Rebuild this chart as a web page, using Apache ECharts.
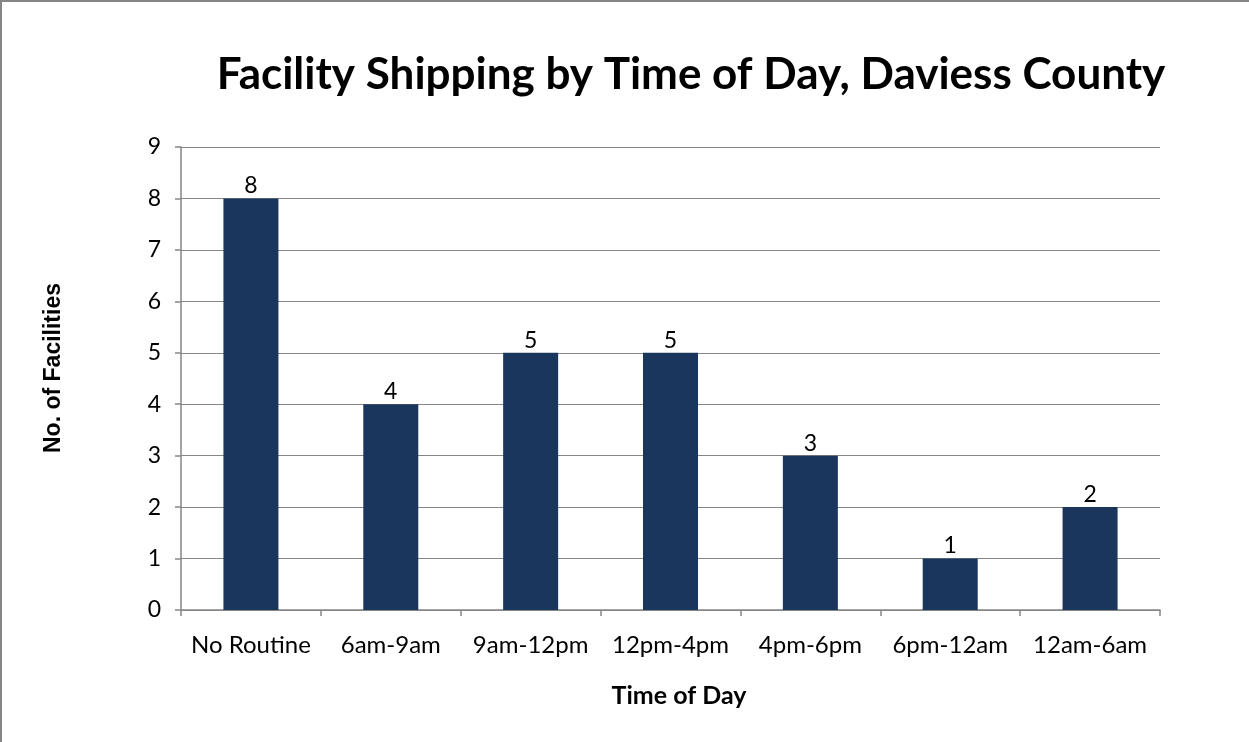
<!DOCTYPE html>
<html>
<head>
<meta charset="utf-8">
<script src="https://cdn.jsdelivr.net/npm/echarts@6/dist/echarts.min.js"></script>
<style>
  html, body { margin: 0; padding: 0; background: #fff; }
  #chart {
    width: 1249px; height: 742px; box-sizing: border-box;
    border-top: 2px solid #868686; border-left: 2px solid #868686;
  }
</style>
</head>
<body>
<div id="chart"></div>
<script>
// Shipping time windows and number of facilities in each
const categories = ['No Routine', '6am-9am', '9am-12pm', '12pm-4pm', '4pm-6pm', '6pm-12am', '12am-6am'];
const facilities = [8, 4, 5, 5, 3, 1, 2];
const yTicks = { min: 0, max: 9, interval: 1 };
const xTitle = 'Time of Day';
const yTitle = 'No. of Facilities';

const labelFont = 'Lato, "Open Sans", sans-serif';
const gray = '#868686';

const chart = echarts.init(document.getElementById('chart'), null, { renderer: 'canvas' });
chart.setOption({
  animation: false,
  backgroundColor: '#fff',
  title: {
    text: 'Facility Shipping by Time of Day, Daviess County',
    left: 684, top: 46, textAlign: 'center',
    textStyle: { fontFamily: labelFont, fontWeight: 'bold', fontSize: 44, color: '#000' }
  },
  grid: { left: 179, right: 89, top: 145, bottom: 132, containLabel: false },
  graphic: [
    {
      type: 'text', x: 677, y: 694,
      style: {
        text: xTitle, x: 0, y: 0, align: 'center', verticalAlign: 'middle',
        font: 'bold 25px Lato, "Open Sans", sans-serif', fill: '#000'
      }
    },
    {
      type: 'text', x: 52, y: 366, rotation: Math.PI / 2,
      style: {
        text: yTitle, x: 0, y: 0, align: 'center', verticalAlign: 'middle',
        font: 'bold 23px "Liberation Sans", Arial, sans-serif', fill: '#000'
      }
    }
  ],
  xAxis: {
    type: 'category',
    data: categories,
    axisLine: { lineStyle: { color: gray, width: 1.5 } },
    axisTick: { show: true, length: 6, lineStyle: { color: gray, width: 1.5 } },
    axisLabel: { interval: 0, fontFamily: labelFont, fontSize: 24, color: '#000', margin: 23 }
  },
  yAxis: {
    type: 'value',
    min: yTicks.min, max: yTicks.max, interval: yTicks.interval,
    axisLine: { show: true, lineStyle: { color: gray, width: 1.5 } },
    axisTick: { show: true, inside: false, length: 6, lineStyle: { color: gray, width: 1.5 } },
    axisLabel: { fontFamily: labelFont, fontSize: 23, color: '#000', margin: 20 },
    splitLine: { lineStyle: { color: gray, width: 1.2 } }
  },
  series: [{
    type: 'bar',
    data: facilities,
    barWidth: 55,
    itemStyle: { color: '#1b365d' },
    label: {
      show: true, position: 'top', distance: 1,
      fontFamily: labelFont, fontSize: 23, color: '#000'
    }
  }]
});
</script>
</body>
</html>
